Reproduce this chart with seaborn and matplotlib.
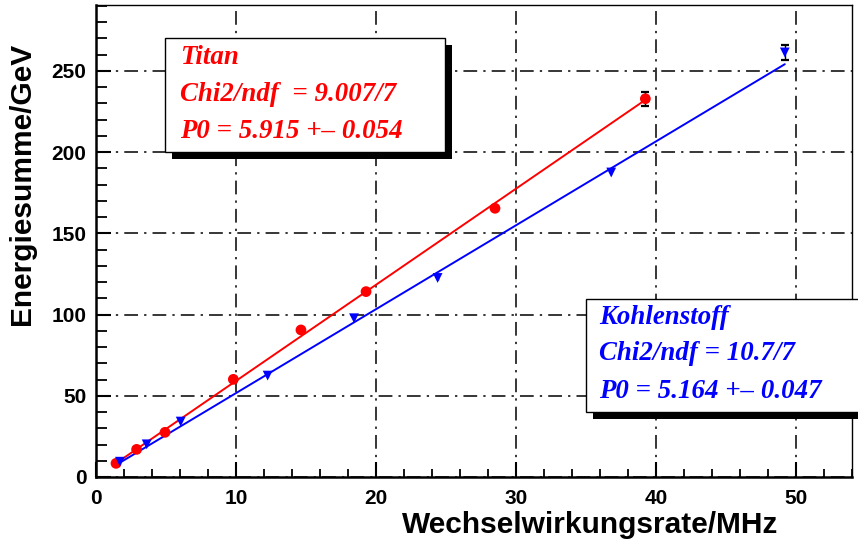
import matplotlib
matplotlib.use("Agg")
import matplotlib.pyplot as plt
import seaborn as sns
import pandas as pd
from matplotlib.ticker import MultipleLocator
from matplotlib.patches import Rectangle

# ---- data ----
titan_x = [1.43, 2.9, 4.93, 9.81, 14.64, 19.29, 28.5, 39.24]
titan_y = [8.4, 17.0, 27.5, 60.1, 90.5, 114.1, 165.4, 232.8]
titan_err = [0.3, 0.4, 0.6, 1.0, 1.2, 1.4, 1.8, 4.4]
titan_p0 = 5.915

kohl_x = [1.71, 3.62, 6.05, 12.26, 18.43, 24.4, 36.8, 49.2]
kohl_y = [9.4, 20.1, 34.1, 62.4, 97.7, 122.5, 187.4, 261.3]
kohl_err = [0.3, 0.4, 0.6, 1.0, 1.2, 1.4, 1.8, 4.6]
kohl_p0 = 5.164

titan_text = ["Titan", "Chi2/ndf  = 9.007/7", "P0 = 5.915 +\u2013 0.054"]
kohl_text = ["Kohlenstoff", "Chi2/ndf = 10.7/7", "P0 = 5.164 +\u2013 0.047"]

xlabel = "Wechselwirkungsrate/MHz"
ylabel = "Energiesumme/GeV"

sns.set_style("white")
plt.rcParams['font.family'] = ['Liberation Sans', 'DejaVu Sans']
plt.rcParams['font.weight'] = 'bold'
plt.rcParams['text.color'] = 'black'
plt.rcParams['xtick.color'] = 'black'
plt.rcParams['ytick.color'] = 'black'
plt.rcParams['axes.labelcolor'] = 'black'
plt.rcParams['xtick.labelsize'] = 15
plt.rcParams['ytick.labelsize'] = 15

W, H = 858, 546
fig = plt.figure(figsize=(W / 100, H / 100), dpi=100)
ax = fig.add_axes([96 / W, 1 - 477 / H, (852 - 96) / W, (477 - 5) / H])

df_t = pd.DataFrame({"x": titan_x, "y": titan_y, "e": titan_err})
df_k = pd.DataFrame({"x": kohl_x, "y": kohl_y, "e": kohl_err})
fit_t = pd.DataFrame({"x": [min(titan_x), max(titan_x)]})
fit_t["y"] = fit_t["x"] * titan_p0
fit_k = pd.DataFrame({"x": [min(kohl_x), max(kohl_x)]})
fit_k["y"] = fit_k["x"] * kohl_p0

# error bars (only those larger than the marker show caps, as in the reference)
for d in (df_t, df_k):
    big = d[d["e"] > 3]
    small = d[d["e"] <= 3]
    ax.errorbar(big["x"], big["y"], yerr=big["e"], fmt="none", ecolor="black",
                elinewidth=1.0, capsize=3.2, capthick=1.6, zorder=2)
    ax.errorbar(small["x"], small["y"], yerr=small["e"], fmt="none",
                ecolor="black", elinewidth=1.0, capsize=0, zorder=2)

# fit lines
sns.lineplot(data=fit_t, x="x", y="y", color="red", linewidth=1.4, ax=ax, zorder=3)
sns.lineplot(data=fit_k, x="x", y="y", color="blue", linewidth=1.4, ax=ax, zorder=3)

# points
sns.scatterplot(data=df_t, x="x", y="y", color="red", marker="o", s=60,
                edgecolor="none", ax=ax, zorder=4)
sns.scatterplot(data=df_k, x="x", y="y", color="blue", marker="v", s=50,
                edgecolor="none", ax=ax, zorder=4)

# grid / scales
ax.set_xlim(0, 54)
ax.set_ylim(0, 290.5)
ax.xaxis.set_major_locator(MultipleLocator(10))
ax.xaxis.set_minor_locator(MultipleLocator(2))
ax.yaxis.set_major_locator(MultipleLocator(50))
ax.yaxis.set_minor_locator(MultipleLocator(10))
ax.grid(True, which="major", color="black", linewidth=1.1,
        linestyle=(0, (9, 4, 1.5, 4)))
ax.set_axisbelow(True)

# axes styling
for side in ["left", "bottom"]:
    ax.spines[side].set_linewidth(1.8)
    ax.spines[side].set_color("black")
for side in ["top", "right"]:
    ax.spines[side].set_linewidth(1.0)
    ax.spines[side].set_color("black")
ax.tick_params(which="both", direction="in", top=False, right=False,
               left=True, bottom=True, color="black", labelcolor="black")
ax.tick_params(axis="x", which="major", length=11, width=1.5, labelsize=15, pad=9)
ax.tick_params(axis="y", which="major", length=11, width=1.5, labelsize=15, pad=7)
ax.tick_params(axis="x", which="minor", length=6, width=1.3)
ax.tick_params(axis="y", which="minor", length=8, width=1.3)
ax.set_xlabel("")
ax.set_ylabel("")
for lab in ax.get_xticklabels() + ax.get_yticklabels():
    lab.set_fontweight("bold")

fig.text(778 / W, 1 - 525 / H, xlabel, ha="right", va="center",
         fontsize=21.5, fontweight="bold", color="black")
fig.text(22 / W, 1 - 43 / H, ylabel, ha="center", va="top", rotation=90,
         fontsize=21.5, fontweight="bold", color="black")

# text boxes
def textbox(x0, y0, x1, y1, lines, color, tx, tys):
    # pixel coordinates (top-left origin) -> figure fraction
    sh = 7
    fig.patches.append(Rectangle(((x0 + sh) / W, 1 - (y1 + sh) / H),
                                 (x1 - x0) / W, (y1 - y0) / H,
                                 transform=fig.transFigure, facecolor="black",
                                 edgecolor="none", zorder=10))
    fig.patches.append(Rectangle((x0 / W, 1 - y1 / H), (x1 - x0) / W,
                                 (y1 - y0) / H, transform=fig.transFigure,
                                 facecolor="white", edgecolor="black",
                                 linewidth=1.0, zorder=11))
    for line, ty in zip(lines, tys):
        fig.text(tx / W, 1 - ty / H, line, color=color, fontsize=19.4,
                 family=["Liberation Serif", "DejaVu Serif"],
                 fontweight="bold", fontstyle="italic", ha="left",
                 va="center", zorder=12)

textbox(165, 38, 445, 152, titan_text, "red", 180, [57, 94, 132])
textbox(586, 299, 900, 412, kohl_text, "blue", 599, [318, 354, 392])

fig.savefig("out.png", dpi=100)
